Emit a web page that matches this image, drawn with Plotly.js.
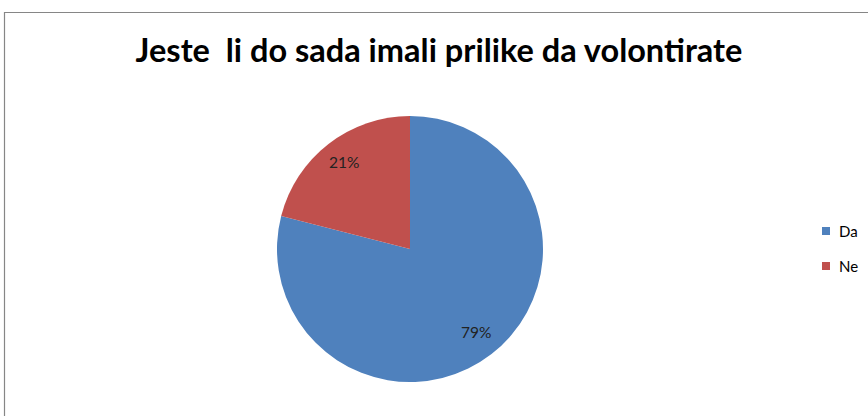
<!DOCTYPE html>
<html>
<head>
<meta charset="utf-8">
<script src="https://cdn.plot.ly/plotly-3.0.1.min.js"></script>
<style>html,body{margin:0;padding:0;background:#fff;}#chart{width:868px;height:416px;}</style>
</head>
<body>
<div id="chart"></div>
<script>
const categories = ["Da", "Ne"];
const values = [79, 21];
const colors = ["#4F81BD", "#C0504D"];
const titleText = "Jeste&nbsp; li do sada imali prilike da volontirate";

const W = 868, H = 416;
const cx = 410, cy = 249, r = 133;

const trace = {
  type: "pie",
  labels: categories,
  values: values,
  sort: false,
  direction: "clockwise",
  rotation: 0,
  marker: {colors: colors, line: {width: 0}},
  textinfo: "none",
  hoverinfo: "label+percent",
  showlegend: false,
  domain: {x: [(cx - r) / W, (cx + r) / W], y: [(H - cy - r) / H, (H - cy + r) / H]}
};

// percentage labels placed along each slice bisector (computed from values)
const total = values.reduce((a, b) => a + b, 0);
const annotations = [];
const shapes = [{type: "rect", xref: "paper", yref: "paper", x0: 4.5 / W, x1: 1.05, y0: -0.05, y1: 1 - 12.5 / H,
                 line: {color: "#868686", width: 1.2}, fillcolor: "rgba(0,0,0,0)", layer: "below"}];
let cum = 0;
values.forEach((v, i) => {
  const mid = (cum + v / 2) / total * 2 * Math.PI;
  cum += v;
  const rr = 0.81 * r;
  const px = cx + rr * Math.sin(mid), py = cy - rr * Math.cos(mid) - 2;
  annotations.push({xref: "paper", yref: "paper", x: px / W, y: 1 - py / H, showarrow: false,
    xanchor: "center", yanchor: "middle", text: Math.round(v / total * 100) + "%",
    font: {family: "Lato, sans-serif", size: 15.5, color: "#222"}});
});
// legend
categories.forEach((c, i) => {
  const ly = 231 + 35 * i;
  shapes.push({type: "rect", xref: "paper", yref: "paper", x0: 822 / W, x1: 830 / W,
    y0: 1 - (ly + 4) / H, y1: 1 - (ly - 4) / H, fillcolor: colors[i], line: {width: 0}});
  annotations.push({xref: "paper", yref: "paper", x: 837 / W, y: 1 - ly / H, showarrow: false,
    xanchor: "left", yanchor: "middle", text: c,
    font: {family: "Lato, sans-serif", size: 15, color: "#000"}});
});

const layout = {
  width: W, height: H,
  margin: {l: 0, r: 0, t: 0, b: 0, autoexpand: false},
  paper_bgcolor: "#fff",
  title: {text: "<b>" + titleText + "</b>", x: 439 / W, xanchor: "center", y: 1 - 51 / H, yanchor: "middle",
          font: {family: "Lato, sans-serif", size: 32.5, color: "#000"}},
  showlegend: false,
  annotations: annotations,
  shapes: shapes
};

Plotly.newPlot("chart", [trace], layout, {displayModeBar: false, staticPlot: true});
</script>
</body>
</html>
